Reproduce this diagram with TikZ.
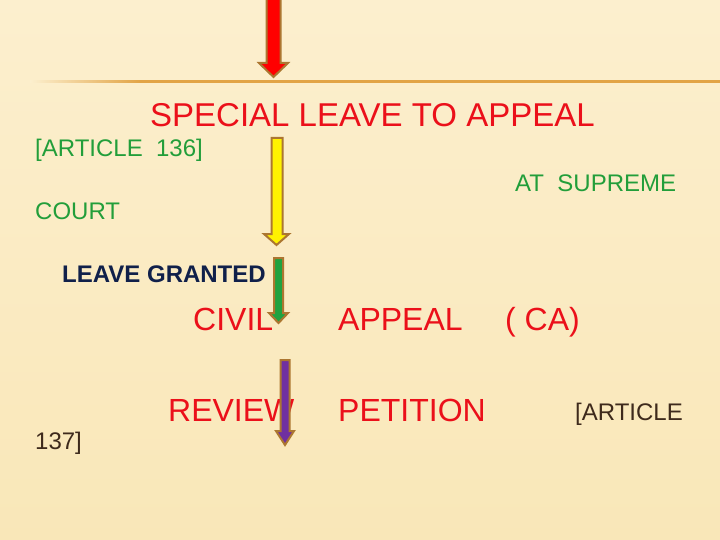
\documentclass[tikz,border=0pt]{standalone}
\usepackage{fontspec}
\setmainfont{Liberation Sans}
\usetikzlibrary{positioning}
\definecolor{slidetop}{RGB}{252,239,206}
\definecolor{slidebot}{RGB}{249,231,184}
\definecolor{ruleline}{RGB}{226,164,70}
\definecolor{txtred}{RGB}{235,16,26}
\definecolor{txtgreen}{RGB}{34,158,58}
\definecolor{txtnavy}{RGB}{16,32,74}
\definecolor{txtbrown}{RGB}{62,42,28}
\definecolor{arrowedge}{RGB}{172,118,48}
\definecolor{arrowgreen}{RGB}{32,162,64}
\definecolor{arrowpurple}{RGB}{112,48,160}
\pgfdeclarehorizontalshading{rulefade}{100bp}{color(0bp)=(slidetop); color(25bp)=(slidetop); color(33bp)=(ruleline); color(100bp)=(ruleline)}
\tikzset{
    bigred/.style={anchor=base west,inner sep=0pt,text=txtred,font=\fontsize{32}{38}\selectfont},
    smgreen/.style={anchor=base west,inner sep=0pt,text=txtgreen,font=\fontsize{24}{29}\selectfont},
    smnavy/.style={anchor=base west,inner sep=0pt,text=txtnavy,font=\bfseries\fontsize{24}{29}\selectfont},
    smbrown/.style={anchor=base west,inner sep=0pt,text=txtbrown,font=\fontsize{24}{29}\selectfont},
    blkarrow/.style={draw=arrowedge,line width=2pt,line join=miter}
}

\begin{document}
\begin{tikzpicture}[x=1pt,y=-1pt]
        \useasboundingbox (0,0) rectangle (720,540);
        % slide background
        \shade[top color=slidetop,bottom color=slidebot] (0,0) rectangle (720,540);
        \shade[shading=rulefade] (30,81) rectangle (720,83);

        % texts
        \node[bigred,font=\fontsize{33}{40}\selectfont] (title) at (150,127) {SPECIAL LEAVE TO APPEAL};
        \node[smgreen] (art136) at (35,157) {[ARTICLE\ \ 136]};
        \node[smgreen] (atsup) at (515,192) {AT\ \ SUPREME};
        \node[smgreen] (court) at (35,220) {COURT};
        \node[smnavy] (granted) at (62,282) {LEAVE GRANTED};
        \node[bigred] (civil) at (193,330) {CIVIL};
        \node[bigred] (appeal) at (338,330) {APPEAL};
        \node[bigred] (ca) at (505,330) {( CA)};
        \node[bigred] (review) at (168,421) {REVIEW};
        \node[bigred] (petition) at (338,421) {PETITION};
        \node[smbrown] (art137a) at (575,420) {[ARTICLE};
        \node[smbrown] (art137b) at (35,449) {137]};

        % block arrows
        \draw[blkarrow,fill=red] (266.5,-3) -- (280.5,-3) -- (280.5,63) -- (288,63) -- (273.5,77) -- (259,63) -- (266.5,63) -- cycle;
        \draw[blkarrow,fill=yellow] (271.5,138) -- (282.5,138) -- (282.5,234) -- (289,234) -- (276.5,245) -- (264,234) -- (271.5,234) -- cycle;
        \draw[blkarrow,fill=arrowgreen] (274,258) -- (283,258) -- (283,313) -- (288,313) -- (278.5,323) -- (269,313) -- (274,313) -- cycle;
        \draw[blkarrow,fill=arrowpurple] (280.5,360) -- (289.5,360) -- (289.5,431) -- (294,431) -- (285,445) -- (276,431) -- (280.5,431) -- cycle;
    \end{tikzpicture}
\end{document}
